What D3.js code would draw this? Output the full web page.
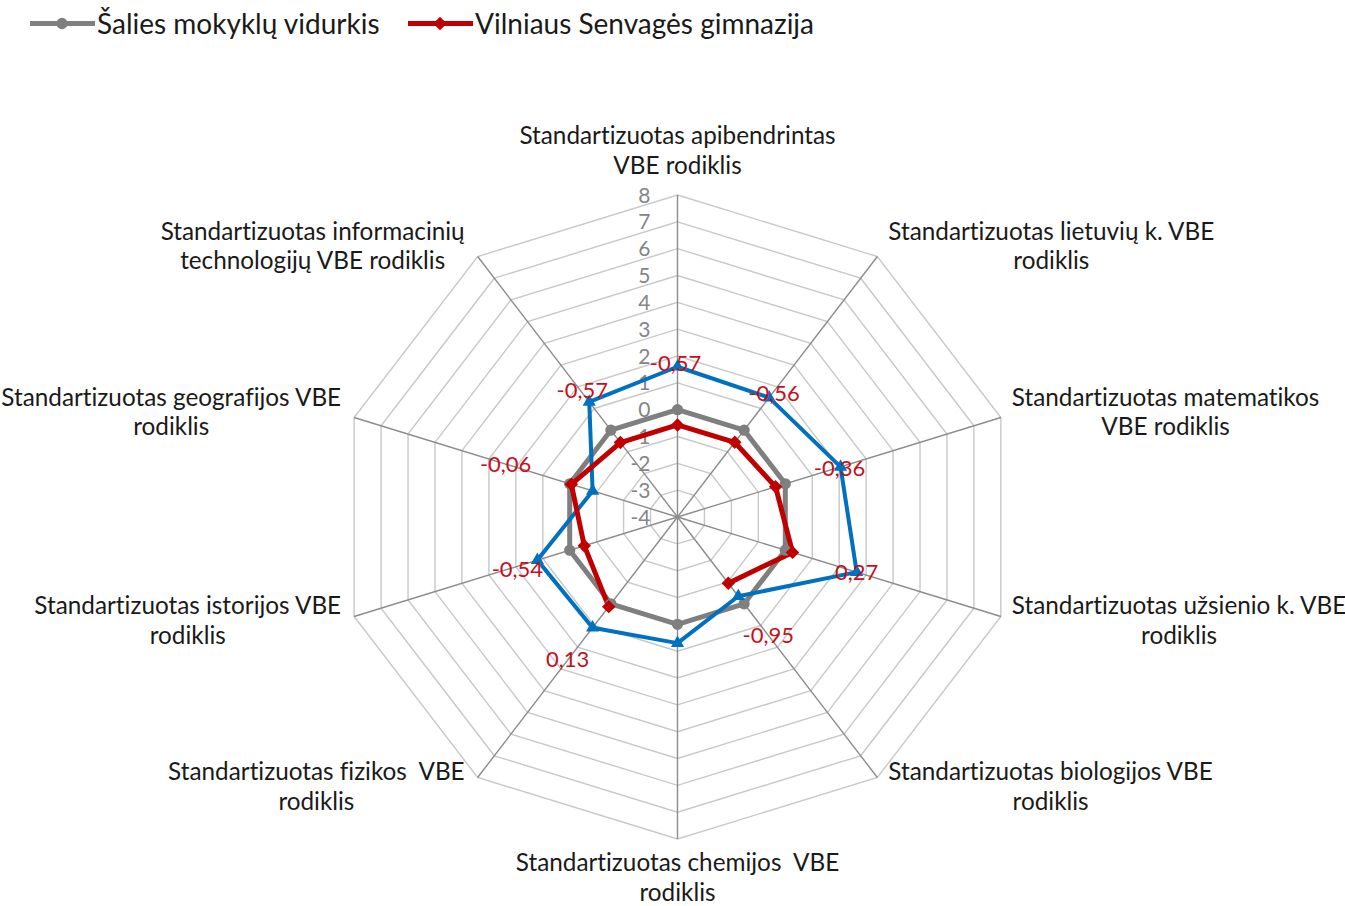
<!DOCTYPE html>
<html>
<head>
<meta charset="utf-8">
<script src="https://cdn.jsdelivr.net/npm/d3@7"></script>
<style>
  body { margin: 0; background: #fff; }
  svg { display: block; font-family: Lato, 'Open Sans', sans-serif; font-variant-ligatures: none; }
  text { white-space: pre; }
</style>
</head>
<body>
<svg id="chart" width="1345" height="906"></svg>
<script>
// categories (two lines each, as in the original)
const categories = [
  ['Standartizuotas apibendrintas', 'VBE rodiklis'],
  ['Standartizuotas lietuvių k. VBE', 'rodiklis'],
  ['Standartizuotas matematikos', 'VBE rodiklis'],
  ['Standartizuotas užsienio k. VBE', 'rodiklis'],
  ['Standartizuotas biologijos VBE', 'rodiklis'],
  ['Standartizuotas chemijos  VBE', 'rodiklis'],
  ['Standartizuotas fizikos  VBE', 'rodiklis'],
  ['Standartizuotas istorijos VBE', 'rodiklis'],
  ['Standartizuotas geografijos VBE', 'rodiklis'],
  ['Standartizuotas informacinių', 'technologijų VBE rodiklis']
]

const seriesNames = ['Šalies mokyklų vidurkis', 'Vilniaus Senvagės gimnazija']

// country average
const countryAvg = [0, 0, 0, 0, 0, 0, 0, 0, 0, 0]
// school values (chemistry missing)
const schoolValues = [-0.57, -0.56, -0.36, 0.27, -0.95, null, 0.13, -0.54, -0.06, -0.57]
// third (blue) series, no legend entry
const blueValues = [1.6, 1.5, 2.05, 2.65, -0.35, 0.7, 1.1, 1.2, -0.85, 1.3]

const tickValues = [-4, -3, -2, -1, 0, 1, 2, 3, 4, 5, 6, 7, 8]

const cx = 677.5
const cy = 517
const rx = 340
const ry = 322
const n = categories.length

const r = d3.scaleLinear().domain([-4, 8]).range([0, 1])
const angle = d3.scaleLinear().domain([0, n]).range([0, 2 * Math.PI])

const px = (i, v) => cx + Math.sin(angle(i)) * r(v) * rx
const py = (i, v) => cy - Math.cos(angle(i)) * r(v) * ry

const svg = d3.select('#chart')

// grid rings
const ring = d3.line().x((d) => d[0]).y((d) => d[1]).curve(d3.curveLinearClosed)
svg
  .append('g')
  .selectAll('path')
  .data(tickValues.slice(1))
  .join('path')
  .attr('d', (t) => ring(d3.range(n).map((i) => [px(i, t), py(i, t)])))
  .attr('fill', 'none')
  .attr('stroke', '#c8c8c8')
  .attr('stroke-width', 1.4)

// spokes
svg
  .append('g')
  .selectAll('line')
  .data(d3.range(n))
  .join('line')
  .attr('x1', cx)
  .attr('y1', cy)
  .attr('x2', (i) => px(i, 8))
  .attr('y2', (i) => py(i, 8))
  .attr('stroke', '#8c8c8c')
  .attr('stroke-width', 1.4)

// tick labels along top spoke
svg
  .append('g')
  .selectAll('text')
  .data(tickValues)
  .join('text')
  .attr('x', cx - 27)
  .attr('y', (t) => py(0, t))
  .attr('dy', '0.36em')
  .attr('text-anchor', 'end')
  .style('font-size', '21px')
  .style('fill', '#858585')
  .text((t) => t)

// category labels
const lineH = 29.5
const catG = svg.append('g')
categories.forEach((lines, i) => {
  const a = angle(i)
  const s = Math.sin(a)
  const c = Math.cos(a)
  const vx = px(i, 8)
  const vy = py(i, 8)
  const t = catG
    .append('text')
    .attr('text-anchor', 'middle')
    .style('font-size', '24.3px')
    .style('fill', '#1a1a1a')
  lines.forEach((l, k) => {
    t.append('tspan').attr('x', 0).attr('y', k * lineH).text(l)
  })
  const w = d3.max(t.selectAll('tspan').nodes(), (nd) => nd.getComputedTextLength())
  const blockH = lineH * lines.length
  let x, y
  if (Math.abs(s) < 0.01) {
    x = vx
    y = c > 0 ? vy - blockH + 8 : vy + 32
  } else {
    x = s > 0 ? vx + 11 + w / 2 : vx - 13 - w / 2
    y = vy - c * 10 - blockH / 2 + 21 + (c < 0 ? 3 : 0)
  }
  t.attr('transform', `translate(${x},${y})`)
})

// series lines
const lineGen = d3
  .line()
  .defined((d) => d.v != null)
  .x((d) => px(d.i, d.v))
  .y((d) => py(d.i, d.v))

const closedPts = (vals) => d3.range(n + 1).map((k) => ({ i: k % n, v: vals[k % n] }))

const series = [
  { vals: countryAvg, color: '#7f7f7f', width: 5, marker: 'circle' },
  { vals: blueValues, color: '#0070c0', width: 4, marker: 'triangle' },
  { vals: schoolValues, color: '#c00000', width: 5, marker: 'diamond' }
]

series.forEach((s) => {
  svg
    .append('path')
    .attr('d', lineGen(closedPts(s.vals)))
    .attr('fill', 'none')
    .attr('stroke', s.color)
    .attr('stroke-width', s.width)
    .attr('stroke-linejoin', 'round')
    .attr('stroke-linecap', 'round')
})

const symbolFor = {
  circle: d3.symbol().type(d3.symbolCircle).size(100),
  diamond: d3.symbol().type(d3.symbolSquare).size(90),
  triangle: d3.symbol().type(d3.symbolTriangle).size(75)
}

series.forEach((s) => {
  svg
    .append('g')
    .selectAll('path')
    .data(d3.range(n).filter((i) => s.vals[i] != null))
    .join('path')
    .attr('d', symbolFor[s.marker])
    .attr(
      'transform',
      (i) => `translate(${px(i, s.vals[i])},${py(i, s.vals[i])})` + (s.marker === 'diamond' ? ' rotate(45)' : '')
    )
    .attr('fill', s.color)
})

// data labels (school values) shown next to the blue points
const labelNudge = [[-2, -4], [5, -5], [-1, 1], [0, 0], [30, 39], [0, 0], [-25, 31], [-20, 9], [-87, -27], [-7, -12]]
const fmt = (v) => v.toFixed(2).replace('.', ',')
svg
  .append('g')
  .selectAll('text')
  .data(d3.range(n).filter((i) => schoolValues[i] != null))
  .join('text')
  .attr('x', (i) => px(i, blueValues[i]) + labelNudge[i][0])
  .attr('y', (i) => py(i, blueValues[i]) + labelNudge[i][1])
  .attr('dy', '0.36em')
  .attr('text-anchor', 'middle')
  .style('font-size', '22px')
  .style('fill', '#c4101c')
  .text((i) => fmt(schoolValues[i]))

// legend
const legendX = [30, 408]
const legendColors = ['#7f7f7f', '#c00000']
const legendMarkers = ['circle', 'diamond']
const leg = svg.append('g')
seriesNames.forEach((name, k) => {
  const g = leg.append('g').attr('transform', `translate(${legendX[k]},23.5)`)
  g.append('line').attr('x1', 0).attr('x2', 65).attr('stroke', legendColors[k]).attr('stroke-width', 5)
  g.append('path')
    .attr('d', symbolFor[legendMarkers[k]])
    .attr('transform', 'translate(32,0)' + (legendMarkers[k] === 'diamond' ? ' rotate(45)' : ''))
    .attr('fill', legendColors[k])
  g.append('text')
    .attr('x', 67)
    .attr('dy', '0.36em')
    .style('font-size', '28px')
    .style('fill', '#1a1a1a')
    .text(name)
})
</script>
</body>
</html>
